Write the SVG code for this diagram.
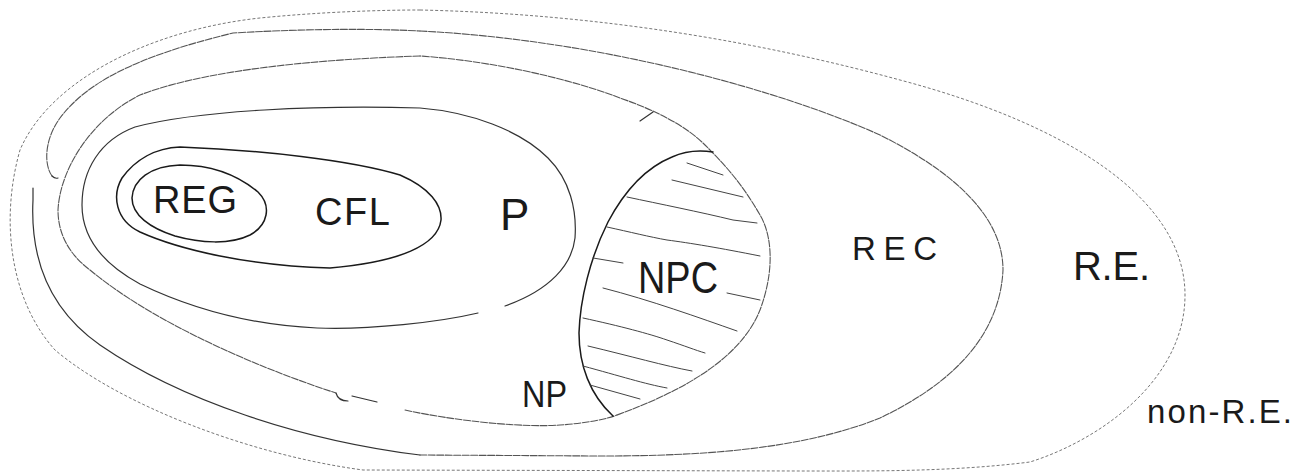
<svg xmlns="http://www.w3.org/2000/svg" width="1295" height="473" viewBox="0 0 1295 473">
<style>
.solid{fill:none;stroke:#1a1a1a;stroke-width:1.5;stroke-linecap:round;stroke-linejoin:round}
.mid{fill:none;stroke:#333;stroke-width:1.2;stroke-linecap:round}
.faint{fill:none;stroke:#555;stroke-width:1.1;stroke-dasharray:7 1.5;stroke-linecap:round}
.dotted{fill:none;stroke:#777;stroke-width:1;stroke-dasharray:3 2}
.hatch{fill:none;stroke:#444;stroke-width:1;stroke-linecap:round}
.lbl{font-family:"Liberation Sans",Arial,sans-serif;fill:#1a1a1a}
</style>
<rect width="1295" height="473" fill="#ffffff"/>
<g id="node-re">
<path class="dotted" d="M420,10 C600,14 760,42 900,80 C1070,125 1185,200 1185,295 C1185,380 1100,440 1030,462 C950,472 870,471 800,471 L363,470 C250,455 120,405 55,350 C10,300 0,220 20,150 C50,80 150,30 260,18 C320,12 380,10 420,10 Z"/>
<text class="lbl" x="1073" y="280" font-size="40" textLength="77">R.E.</text>
</g>
<g id="node-nonre">
<text class="lbl" x="1147" y="423" font-size="33" textLength="145">non-R.E.</text>
</g>
<g id="node-rec">
<path class="faint" d="M420,31 C600,40 780,90 880,135 C960,175 1003,220 1003,270 C1000,330 960,380 880,418 C800,450 700,456 600,456 L420,455"/>
<path class="mid" d="M420,455 C300,440 180,400 100,345 C50,310 30,260 33,200 L33,188"/>
<path class="faint" d="M52,176 C44,165 44,140 60,118 C85,85 130,58 233,33 C320,28 380,29 420,31"/>
<path class="mid" d="M52,176 q3,3 6,2"/>
<text class="lbl" x="852" y="260" font-size="33" textLength="85">REC</text>
</g>
<g id="node-np">
<path class="faint" d="M420,56 C300,60 200,72 140,95 C90,120 60,170 58,210 C58,235 70,255 90,270 C150,320 250,365 336,393"/>
<path class="mid" d="M336,393 q2,8 12,8 M352,396 L377,402"/>
<path class="faint" d="M405,410 C450,420 520,428 560,425 C590,423 610,418 617,415"/>
<path class="faint" d="M617,415 C680,392 740,360 760,310 C775,270 772,235 760,215 C740,180 720,160 705,145 C680,120 640,105 620,98 C560,75 480,60 420,56"/>
<path class="mid" d="M640,121 L653,112"/>
<text class="lbl" x="522" y="407" font-size="36" textLength="45" lengthAdjust="spacingAndGlyphs">NP</text>
</g>
<g id="node-npc">
<path class="solid" d="M713,152 C700,150 685,151 672,157 C645,168 625,190 608,222 C590,258 580,300 579,333 C579,365 590,395 613,416"/>
<g class="hatch">
<path d="M687,163 L723,175"/>
<path d="M672,180 L743,197"/>
<path d="M627,197 C660,204 700,212 733,220 L757,223"/>
<path d="M607,227 C630,232 650,237 667,240 C690,243 720,248 760,256"/>
<path d="M593,258 L623,263"/>
<path d="M727,293 L760,300"/>
<path d="M603,288 C650,300 700,318 737,331"/>
<path d="M583,318 C620,326 650,334 667,340 C685,346 695,350 705,353"/>
<path d="M588,346 C630,356 665,366 692,371"/>
<path d="M583,366 C620,376 645,384 667,388"/>
<path d="M590,385 L640,399"/>
</g>
<text class="lbl" x="638" y="293" font-size="44" textLength="80" lengthAdjust="spacingAndGlyphs">NPC</text>
</g>
<g id="node-p">
<path class="mid" d="M420,108 C470,112 520,130 548,158 C570,180 577,210 575,238 C572,265 550,290 505,306 M478,313 C440,322 370,330 317,328 C250,325 190,308 140,284 C105,265 82,240 82,205 C82,170 100,140 135,127 C200,110 320,105 420,108"/>
<text class="lbl" x="500" y="230" font-size="44">P</text>
</g>
<g id="node-cfl">
<path class="solid" d="M180,147 C260,150 350,160 400,175 C430,188 442,205 441,220 C438,245 400,262 330,268 C250,266 180,250 140,232 C115,220 112,195 122,178 C135,160 155,148 180,147 Z"/>
<text class="lbl" x="315" y="225" font-size="38" textLength="75">CFL</text>
</g>
<g id="node-reg">
<path class="solid" d="M180,165 C215,165 240,177 258,192 C272,206 268,225 250,235 C230,245 200,243 175,236 C150,228 132,215 132,198 C133,180 150,166 180,165 Z"/>
<text class="lbl" x="153" y="213" font-size="38" textLength="84">REG</text>
</g>
<g id="connectors"></g>
</svg>
